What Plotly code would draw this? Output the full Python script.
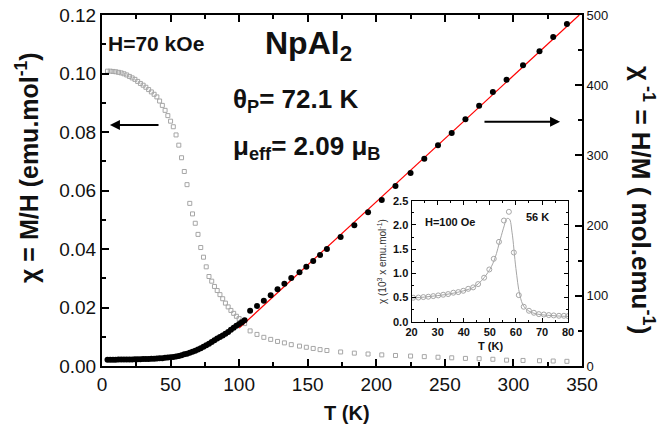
import plotly.graph_objects as go

# ---------------- data ----------------
# dense low-T region, chi^-1 (right axis, mol/emu)
T_dense = [4, 6, 8, 10, 12, 14, 16, 18, 20, 22, 24, 26, 28, 30, 32, 34, 36, 38, 40,
           42, 44, 46, 48, 50, 52, 54, 56, 58, 60, 62, 64, 66, 68, 70, 72, 74, 76, 78,
           80, 82, 84, 86, 88, 90, 92, 94, 96, 98, 100, 102, 104]
chiinv_dense = [9.0, 9.0, 9.0, 9.0, 9.1, 9.1, 9.2, 9.2, 9.3, 9.4, 9.5, 9.6, 9.7, 9.8,
                9.9, 10.0, 10.2, 10.4, 10.6, 10.9, 11.2, 11.6, 12.0, 12.4, 12.9, 13.6,
                14.4, 15.4, 16.6, 17.6, 18.8, 20.2, 21.8, 23.5, 25.3, 27.3, 29.5, 31.8,
                34.2, 36.6, 39.0, 41.3, 43.6, 46.0, 48.5, 51.5, 54.5, 57.2, 60.0, 62.5, 65.0]
# chi (left axis, emu/mol) in the same dense region
chi_dense = [0.1008, 0.1008, 0.1007, 0.1006, 0.1004, 0.1002, 0.0999, 0.0995, 0.0990,
             0.0985, 0.0980, 0.0973, 0.0966, 0.0960, 0.0953, 0.0945, 0.0937, 0.0929,
             0.0920, 0.0906, 0.0891, 0.0874, 0.0856, 0.0837, 0.0818, 0.0790, 0.0755,
             0.0712, 0.0665, 0.0620, 0.0556, 0.0520, 0.0488, 0.0450, 0.0405, 0.0372,
             0.0339, 0.0306, 0.0290, 0.0272, 0.0258, 0.0244, 0.0230, 0.0215, 0.0202,
             0.0190, 0.0180, 0.0170, 0.0162, 0.0153, 0.0145]
# sparse high-T points
T_sparse = [108, 113, 118, 123, 128, 133, 138, 144, 149, 154, 159, 164, 174, 184, 194,
            204, 214, 225, 235, 245, 255, 265, 275, 285, 295, 307, 319, 329, 339]
chiinv_sparse = [78.8, 85.5, 93.0, 100.7, 109.2, 117.3, 125.4, 133.5, 141.5, 149.6,
                 158.1, 166.7, 183.6, 200.6, 219.0, 236.5, 256.4, 275.0, 295.3, 314.4,
                 331.9, 351.4, 370.8, 390.3, 407.8, 428.3, 448.3, 468.7, 487.2]
chi_sparse = [0.0120, 0.0108, 0.0098, 0.0091, 0.0084, 0.0079, 0.0073, 0.0068, 0.0064,
              0.0060, 0.0056, 0.0053, 0.0048, 0.0044, 0.0041, 0.0038, 0.0036, 0.0034,
              0.0032, 0.0030, 0.0028, 0.0026, 0.0025, 0.0023, 0.0020, 0.0019, 0.0018,
              0.0017, 0.0016]
# Curie-Weiss fit line (right axis)
T_fit = [100, 348]
chiinv_fit = [54, 500]

# inset (H = 100 Oe), chi in 10^3 x emu/mol
T_inset = [20.6, 22.6, 24.5, 26.4, 28.3, 30.2, 32.1, 34.0, 36.0, 37.9, 39.8, 41.7, 43.6,
           45.5, 47.8, 49.8, 51.5, 53.5, 55.4, 57.3, 59.2, 61.1, 63.0, 65.0, 66.9, 68.8,
           70.7, 72.6, 74.5, 76.5, 78.4, 80.0]
chi_inset = [0.496, 0.50, 0.51, 0.517, 0.53, 0.544, 0.558, 0.572, 0.60, 0.613, 0.64,
             0.68, 0.71, 0.778, 0.91, 1.08, 1.30, 1.65, 2.09, 2.27, 1.43, 0.55, 0.31,
             0.227, 0.186, 0.158, 0.15, 0.138, 0.131, 0.124, 0.124, 0.117]
T_inset_line = [20, 25, 30, 35, 40, 44, 47, 50, 52, 54, 55.5, 56.5, 57.5, 58.5, 60,
                61.5, 63, 65, 68, 72, 76, 80]
chi_inset_line = [0.49, 0.51, 0.54, 0.58, 0.64, 0.72, 0.86, 1.08, 1.32, 1.70, 1.98,
                  2.13, 2.12, 1.85, 1.10, 0.55, 0.32, 0.22, 0.16, 0.135, 0.12, 0.11]

FONT = "Liberation Sans, Arial, sans-serif"
GRAY = "#a6a6a6"

fig = go.Figure()

# chi (left axis) open gray squares
fig.add_trace(go.Scatter(x=T_dense + T_sparse, y=chi_dense + chi_sparse, mode="markers",
                         marker=dict(symbol="square-open", size=4, color=GRAY,
                                     line=dict(width=1, color=GRAY)),
                         xaxis="x", yaxis="y", showlegend=False))
# fit line
fig.add_trace(go.Scatter(x=T_fit, y=chiinv_fit, mode="lines",
                         line=dict(color="red", width=1.2),
                         xaxis="x", yaxis="y2", showlegend=False))
# chi^-1 (right axis) black dots
fig.add_trace(go.Scatter(x=T_dense + T_sparse, y=chiinv_dense + chiinv_sparse,
                         mode="markers", marker=dict(symbol="circle", size=6, color="black"),
                         xaxis="x", yaxis="y2", showlegend=False, cliponaxis=False))
# inset
fig.add_trace(go.Scatter(x=T_inset_line, y=chi_inset_line, mode="lines",
                         line=dict(color=GRAY, width=1, shape="spline"),
                         xaxis="x2", yaxis="y3", showlegend=False))
fig.add_trace(go.Scatter(x=T_inset, y=chi_inset, mode="markers",
                         marker=dict(symbol="circle-open", size=5, color=GRAY,
                                     line=dict(width=1, color=GRAY)),
                         xaxis="x2", yaxis="y3", showlegend=False))

axis_common = dict(showline=True, linecolor="black", ticks="inside", showgrid=False,
                   zeroline=False, tickcolor="black")

fig.update_layout(
    width=664, height=428,
    margin=dict(l=102, r=82, t=15, b=62, autoexpand=False),
    paper_bgcolor="white", plot_bgcolor="white",
    font=dict(family=FONT, color="#111111"),
    xaxis=dict(**axis_common, range=[0, 350], dtick=50, linewidth=2, tickwidth=2, ticklen=7,
               mirror="ticks", tickfont=dict(size=19),
               minor=dict(dtick=25, ticklen=4, ticks="inside", tickwidth=2, tickcolor="black")),
    yaxis=dict(**axis_common, range=[0, 0.12], dtick=0.02, tickformat=".2f", linewidth=2,
               tickwidth=2, ticklen=7, tickfont=dict(size=19), anchor="x",
               minor=dict(dtick=0.01, ticklen=4, ticks="inside", tickwidth=2, tickcolor="black")),
    yaxis2=dict(**axis_common, range=[0, 500], dtick=100, overlaying="y", side="right",
                anchor="x", linewidth=2, tickwidth=2, ticklen=7, tickfont=dict(size=13),
                minor=dict(dtick=50, ticklen=4, ticks="inside", tickwidth=2, tickcolor="black")),
    xaxis2=dict(**axis_common, domain=[0.645, 0.971], anchor="y3", range=[20, 80], dtick=10,
                linewidth=1.3, tickwidth=1.3, ticklen=4, mirror="ticks",
                tickfont=dict(size=11, family="Liberation Sans, Arial", weight="bold"),
                minor=dict(dtick=5, ticklen=2, ticks="inside", tickwidth=1, tickcolor="black")),
    yaxis3=dict(**axis_common, domain=[0.126, 0.471], anchor="x2", range=[0, 2.5], dtick=0.5,
                tickformat=".1f", linewidth=1.3, tickwidth=1.3, ticklen=4, mirror="ticks",
                tickfont=dict(size=11, family="Liberation Sans, Arial", weight="bold"),
                minor=dict(dtick=0.25, ticklen=2, ticks="inside", tickwidth=1, tickcolor="black")),
)

def px(x):
    return (x - 102) / 480

def py(y):
    return (366 - y) / 351

ann = []
def text(x, y, s, size, bold=True, angle=0, xa="center", ya="middle", color="#111"):
    ann.append(dict(x=px(x), y=py(y), xref="paper", yref="paper", text=s, showarrow=False,
                    textangle=angle, xanchor=xa, yanchor=ya,
                    font=dict(size=size, family=FONT, color=color,
                              weight="bold" if bold else "normal")))

text(106, 43, "H=70 kOe", 21, xa="left")
text(263, 46, "NpAl<sub>2</sub>", 32, xa="left")
text(231, 100, "\u03b8<sub>P</sub>= 72.1 K", 26, xa="left")
text(231, 148, "\u03bc<sub>eff</sub>= 2.09 \u03bc<sub>B</sub>", 26, xa="left")
text(347, 413, "T (K)", 20)
text(27, 168, "\u03c7 = M/H (emu.mol<sup>-1</sup>)", 25, angle=-90)
text(643, 200, "\u03c7<sup> -1</sup> = H/M ( mol.emu<sup>-1</sup>)", 26, angle=90)
# inset labels
text(450, 222, "H=100 Oe", 11)
text(537, 217, "56 K", 11)
text(490, 346, "T (K)", 11)
text(382, 262, "\u03c7 (10<sup>3</sup> x emu.mol<sup>-1</sup>)", 10, bold=False, angle=-90,
     color="#333")

# arrows
ann.append(dict(x=5.8, y=0.0824, ax=42.3, ay=0.0824, xref="x", yref="y", axref="x",
                ayref="y", showarrow=True, arrowhead=2, arrowsize=1, arrowwidth=2,
                arrowcolor="black", text=""))
ann.append(dict(x=334, y=348, ax=277.8, ay=348, xref="x", yref="y2", axref="x",
                ayref="y2", showarrow=True, arrowhead=2, arrowsize=1, arrowwidth=2,
                arrowcolor="black", text=""))

fig.update_layout(annotations=ann)
fig.write_html("out.html")
